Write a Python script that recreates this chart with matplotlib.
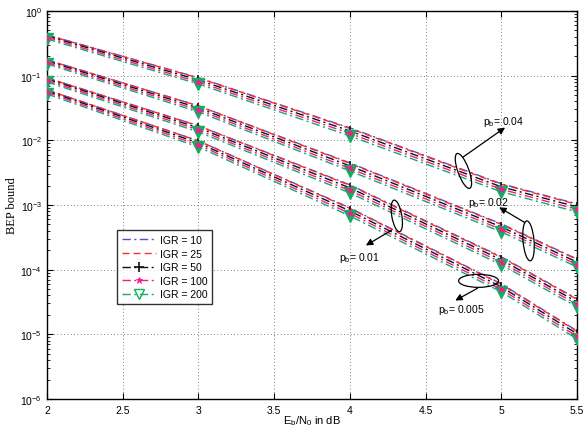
import numpy as np
import matplotlib
matplotlib.use('Agg')
import matplotlib.pyplot as plt
import matplotlib.transforms as transforms
from matplotlib.patches import Ellipse
from matplotlib.lines import Line2D

plt.rcParams['font.family'] = ['Liberation Sans', 'DejaVu Sans']
plt.rcParams['mathtext.fontset'] = 'custom'
plt.rcParams['mathtext.rm'] = 'Liberation Sans'
plt.rcParams['mathtext.it'] = 'Liberation Sans'

# Eb/N0 in dB
ebn0 = [2, 3, 4, 5, 5.5]
igr_labels = ['IGR = 10', 'IGR = 25', 'IGR = 50', 'IGR = 100', 'IGR = 200']

# pb = 0.04
bep_pb004_igr10 = [0.428, 0.0930, 0.0156, 0.00213, 0.00104]
bep_pb004_igr25 = [0.425, 0.0921, 0.0153, 0.00209, 0.00102]
bep_pb004_igr50 = [0.411, 0.0858, 0.0140, 0.00191, 0.000935]
bep_pb004_igr100 = [0.389, 0.0799, 0.0128, 0.00175, 0.000855]
bep_pb004_igr200 = [0.369, 0.0744, 0.0117, 0.00160, 0.000782]

# pb = 0.02
bep_pb002_igr10 = [0.176, 0.0342, 0.00448, 0.000511, 0.000146]
bep_pb002_igr25 = [0.175, 0.0340, 0.00440, 0.000501, 0.000144]
bep_pb002_igr50 = [0.169, 0.0317, 0.00403, 0.000459, 0.000131]
bep_pb002_igr100 = [0.160, 0.0295, 0.00368, 0.000420, 0.000120]
bep_pb002_igr200 = [0.152, 0.0275, 0.00337, 0.000384, 0.000110]

# pb = 0.01
bep_pb001_igr10 = [0.0926, 0.0168, 0.00205, 0.000158, 3.54e-5]
bep_pb001_igr25 = [0.0922, 0.0167, 0.00201, 0.000155, 3.47e-5]
bep_pb001_igr50 = [0.0890, 0.0156, 0.00184, 0.000142, 3.18e-5]
bep_pb001_igr100 = [0.0844, 0.0145, 0.00168, 0.000130, 2.91e-5]
bep_pb001_igr200 = [0.0800, 0.0135, 0.00154, 0.000119, 2.66e-5]

# pb = 0.005
bep_pb0005_igr10 = [0.0604, 0.00982, 0.000903, 6.04e-5, 1.13e-5]
bep_pb0005_igr25 = [0.0601, 0.00978, 0.000887, 5.93e-5, 1.11e-5]
bep_pb0005_igr50 = [0.0580, 0.00911, 0.000811, 5.43e-5, 1.02e-5]
bep_pb0005_igr100 = [0.0550, 0.00848, 0.000742, 4.96e-5, 9.29e-6]
bep_pb0005_igr200 = [0.0521, 0.00790, 0.000679, 4.54e-5, 8.50e-6]

groups = [
    [bep_pb004_igr10, bep_pb004_igr25, bep_pb004_igr50, bep_pb004_igr100, bep_pb004_igr200],
    [bep_pb002_igr10, bep_pb002_igr25, bep_pb002_igr50, bep_pb002_igr100, bep_pb002_igr200],
    [bep_pb001_igr10, bep_pb001_igr25, bep_pb001_igr50, bep_pb001_igr100, bep_pb001_igr200],
    [bep_pb0005_igr10, bep_pb0005_igr25, bep_pb0005_igr50, bep_pb0005_igr100, bep_pb0005_igr200],
]

blue = '#5050c8'
red = '#ff2a2a'
black = '#111111'
magenta = '#ff1493'
green = '#10b060'

dashdot = (0, (6, 2.5, 1.5, 2.5))
dashed = (0, (5, 3))

styles = [
    dict(color=blue, ls=dashdot, marker=None, zorder=3),
    dict(color=red, ls=dashed, marker=None, zorder=3),
    dict(color=black, ls=dashdot, marker='+', ms=7, mew=1.2, zorder=4),
    dict(color=magenta, ls=dashdot, marker='*', ms=5, mew=0.6, zorder=6),
    dict(color=green, ls=dashdot, marker='v', ms=8.5, mew=1.0, mfc=green, zorder=5),
]

fig = plt.figure(figsize=(5.83, 4.35), dpi=100)
ax = fig.add_axes([0.0806, 0.0805, 0.9091, 0.8919])

for grp in groups:
    for vals, st in zip(grp, styles):
        ax.semilogy(ebn0, vals, lw=1.0, **st)

ax.set_xlim(2, 5.5)
ax.set_ylim(1e-6, 1)
ax.set_xticks([2, 2.5, 3, 3.5, 4, 4.5, 5, 5.5])
ax.set_xticklabels(['2', '2.5', '3', '3.5', '4', '4.5', '5', '5.5'])
ax.set_yticks([10.0**k for k in range(-6, 1)])
ax.grid(True, which='major', ls=(0, (1, 3)), color='#555555', lw=0.6)
ax.tick_params(which='both', direction='in', top=True, right=True, labelsize=7.5)
ax.tick_params(which='major', length=4)
ax.tick_params(which='minor', length=2)
ax.tick_params(axis='x', pad=4)
for sp in ax.spines.values():
    sp.set_linewidth(1.0)

ax.set_xlabel(r'E$_b$/N$_0$ in dB', fontsize=8, labelpad=-1)
ax.set_ylabel('BEP bound', fontsize=9, family=['Liberation Serif', 'DejaVu Serif'], labelpad=2)

# legend
handles = [
    Line2D([], [], color=blue, ls=dashdot, lw=1.0),
    Line2D([], [], color=red, ls=dashed, lw=1.0),
    Line2D([], [], color=black, ls=dashdot, lw=1.0, marker='+', ms=7, mew=1.2),
    Line2D([], [], color=magenta, ls=dashdot, lw=1.0, marker='*', ms=5, mew=0.6),
    Line2D([], [], color=green, ls=dashdot, lw=1.0, marker='v', ms=7, mfc='none'),
]
leg = ax.legend(handles, igr_labels, loc='upper left', bbox_to_anchor=(0.133, 0.435),
                fontsize=7.5, frameon=True, fancybox=False, edgecolor='black',
                handlelength=3.2, handletextpad=0.4, borderpad=0.45, labelspacing=0.35,
                borderaxespad=0)
leg.get_frame().set_linewidth(1.0)


# ellipses drawn in inches, centred at a data point
def ring(xc, yc, w, h, angle):
    tr = fig.dpi_scale_trans + transforms.ScaledTranslation(xc, yc, ax.transData)
    ax.add_patch(Ellipse((0, 0), w, h, angle=angle, fill=False, ec='black', lw=0.9,
                         transform=tr, zorder=8))


ring(4.75, 10 ** (-(172 - 12) / 64.7), 0.11, 0.37, 20)
ring(5.18, 10 ** (-(242 - 12) / 64.7), 0.11, 0.40, 5)
ring(4.31, 10 ** (-(217 - 12) / 64.7), 0.10, 0.32, 10)
ring(4.85, 10 ** (-(282 - 12) / 64.7), 0.40, 0.13, 0)

arrow = dict(arrowstyle='-|>', color='black', lw=0.9, mutation_scale=10)
ax.annotate('', xy=(5.04, 10 ** (-(127 - 12) / 64.7)), xytext=(4.73, 10 ** (-(160 - 12) / 64.7)),
            arrowprops=arrow, zorder=9)
ax.annotate('', xy=(4.97, 10 ** (-(207 - 12) / 64.7)), xytext=(5.17, 10 ** (-(225 - 12) / 64.7)),
            arrowprops=arrow, zorder=9)
ax.annotate('', xy=(4.09, 10 ** (-(248 - 12) / 64.7)), xytext=(4.29, 10 ** (-(230 - 12) / 64.7)),
            arrowprops=arrow, zorder=9)
ax.annotate('', xy=(4.68, 10 ** (-(303 - 12) / 64.7)), xytext=(4.86, 10 ** (-(288 - 12) / 64.7)),
            arrowprops=arrow, zorder=9)

ax.text(4.88, 10 ** (-(122 - 12) / 64.7), r'p$_b$= 0.04', fontsize=7.5, va='center', zorder=9)
ax.text(4.78, 10 ** (-(203 - 12) / 64.7), r'p$_b$= 0.02', fontsize=7.5, va='center', zorder=9)
ax.text(3.93, 10 ** (-(258 - 12) / 64.7), r'p$_b$= 0.01', fontsize=7.5, va='center', zorder=9)
ax.text(4.58, 10 ** (-(310 - 12) / 64.7), r'p$_b$= 0.005', fontsize=7.5, va='center', zorder=9)

fig.savefig('out.png', dpi=100)
